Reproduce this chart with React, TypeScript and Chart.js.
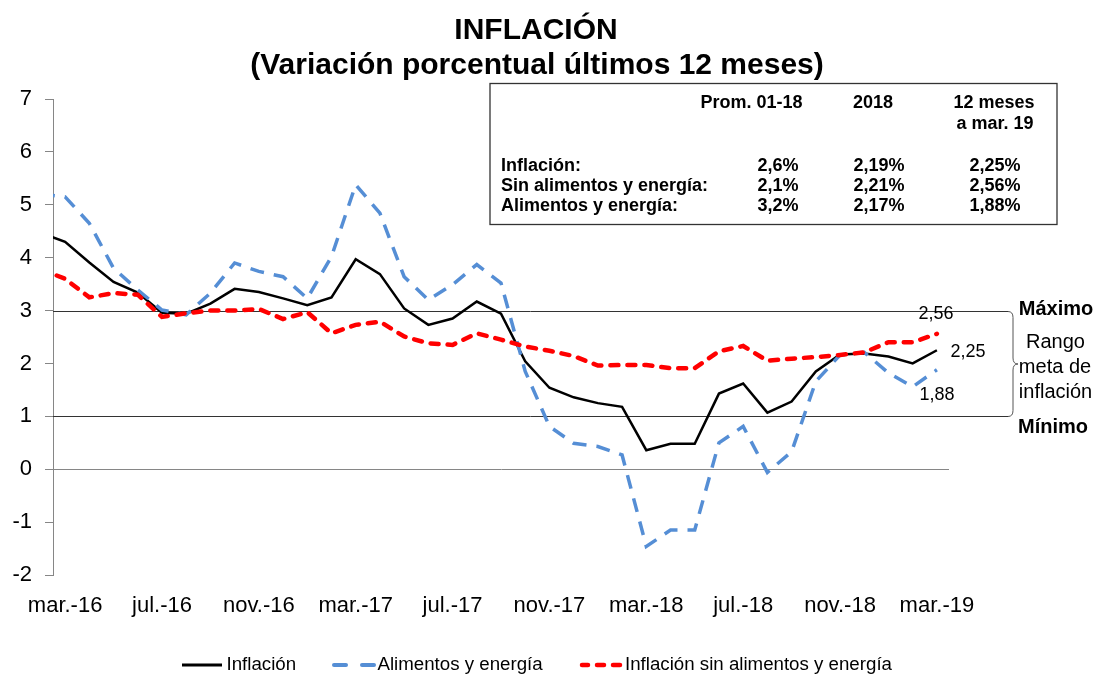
import React, { useEffect, useRef } from "react";
import { Chart, registerables } from "chart.js";

Chart.register(...registerables);

const FONT = '"Liberation Sans", Arial, Helvetica, sans-serif';

// Months (feb.-16 is only partly visible, clipped at the axis)
const months = [
  "feb.-16", "mar.-16", "abr.-16", "may.-16", "jun.-16", "jul.-16", "ago.-16", "sep.-16", "oct.-16", "nov.-16", "dic.-16",
  "ene.-17", "feb.-17", "mar.-17", "abr.-17", "may.-17", "jun.-17", "jul.-17", "ago.-17", "sep.-17", "oct.-17", "nov.-17", "dic.-17",
  "ene.-18", "feb.-18", "mar.-18", "abr.-18", "may.-18", "jun.-18", "jul.-18", "ago.-18", "sep.-18", "oct.-18", "nov.-18", "dic.-18",
  "ene.-19", "feb.-19", "mar.-19",
];

const tickLabels = ["mar.-16", "jul.-16", "nov.-16", "mar.-17", "jul.-17", "nov.-17", "mar.-18", "jul.-18", "nov.-18", "mar.-19"];

const inflacion = [
  4.47, 4.30, 3.91, 3.54, 3.34, 2.96, 2.94, 3.13, 3.41, 3.35, 3.23,
  3.10, 3.25, 3.97, 3.69, 3.04, 2.73, 2.85, 3.17, 2.94, 2.04, 1.54, 1.36,
  1.25, 1.18, 0.36, 0.48, 0.48, 1.43, 1.62, 1.07, 1.28, 1.85, 2.17, 2.19,
  2.13, 2.00, 2.25,
];

const alimentosEnergia = [
  5.20, 5.15, 4.65, 3.80, 3.39, 3.01, 2.92, 3.33, 3.90, 3.74, 3.64,
  3.23, 4.02, 5.38, 4.84, 3.64, 3.20, 3.49, 3.87, 3.52, 1.85, 0.81, 0.49,
  0.43, 0.27, -1.46, -1.15, -1.15, 0.50, 0.81, -0.06, 0.33, 1.66, 2.16, 2.21,
  1.82, 1.56, 1.88,
];

const sinAlimentosEnergia = [
  3.78, 3.60, 3.25, 3.33, 3.30, 2.88, 2.95, 3.00, 3.00, 3.03, 2.84,
  2.97, 2.57, 2.73, 2.79, 2.51, 2.38, 2.35, 2.57, 2.45, 2.32, 2.24, 2.14,
  1.96, 1.97, 1.97, 1.91, 1.91, 2.23, 2.33, 2.05, 2.09, 2.12, 2.16, 2.21,
  2.40, 2.40, 2.56,
];

const seriesNames = ["Inflación", "Alimentos y energía", "Inflación sin alimentos y energía"];

const rangeBounds = [3, 1];
const rangeTexts = ["Máximo", "Rango", "meta de", "inflación", "Mínimo"];

const titleLines = ["INFLACIÓN", "(Variación porcentual últimos 12 meses)"];

const tableHeaders = ["Prom. 01-18", "2018", "12 meses", "a mar. 19"];
const tableRowLabels = ["Inflación:", "Sin alimentos y energía:", "Alimentos y energía:"];
const tableProm = ["2,6%", "2,1%", "3,2%"];
const table2018 = ["2,19%", "2,21%", "2,17%"];
const table12m = ["2,25%", "2,56%", "1,88%"];

const BLACK = "#000000";
const BLUE = "#558ED5";
const RED = "#FF0000";

const toPoints = (vals: number[]) => vals.map((v, i) => ({ x: i, y: v }));
const fmt = (v: number) => v.toFixed(2).replace(".", ",");

const overlayPlugin = {
  id: "overlay",
  beforeDatasetsDraw(chart: any) {
    const { ctx, chartArea, scales } = chart;
    const y = scales.y;
    ctx.save();
    ctx.strokeStyle = "#333333";
    ctx.lineWidth = 1;
    rangeBounds.forEach((v) => {
      const py = Math.round(y.getPixelForValue(v)) + 0.5;
      ctx.beginPath();
      ctx.moveTo(chartArea.left, py);
      ctx.lineTo(1008, py);
      ctx.stroke();
    });
    ctx.restore();
  },
  afterDraw(chart: any) {
    const { ctx, scales } = chart;
    const x = scales.x;
    const y = scales.y;
    ctx.save();

    // Title
    ctx.fillStyle = "#000";
    ctx.textAlign = "center";
    ctx.textBaseline = "middle";
    ctx.font = `bold 30px ${FONT}`;
    ctx.fillText(titleLines[0], 536, 31);
    ctx.fillText(titleLines[1], 537, 66);

    // Table box
    ctx.strokeStyle = "#333";
    ctx.lineWidth = 1.3;
    ctx.strokeRect(490, 83.5, 567, 141);
    ctx.font = `bold 18px ${FONT}`;
    ctx.fillStyle = "#000";
    ctx.textAlign = "center";
    ctx.fillText(tableHeaders[0], 751.5, 103);
    ctx.fillText(tableHeaders[1], 873, 103);
    ctx.fillText(tableHeaders[2], 994, 103);
    ctx.fillText(tableHeaders[3], 995, 124);
    const rowYs = [166, 186, 206];
    rowYs.forEach((ry, i) => {
      ctx.textAlign = "left";
      ctx.fillText(tableRowLabels[i], 501, ry);
      ctx.textAlign = "center";
      ctx.fillText(tableProm[i], 778, ry);
      ctx.fillText(table2018[i], 879, ry);
      ctx.fillText(table12m[i], 995, ry);
    });

    // Brace and range annotation
    const y3 = Math.round(y.getPixelForValue(rangeBounds[0])) + 0.5;
    const y1 = Math.round(y.getPixelForValue(rangeBounds[1])) + 0.5;
    const mid = (y3 + y1) / 2;
    ctx.strokeStyle = "#555";
    ctx.lineWidth = 1;
    ctx.beginPath();
    ctx.moveTo(1008, y3);
    ctx.quadraticCurveTo(1013, y3, 1013, y3 + 6);
    ctx.lineTo(1013, mid - 6);
    ctx.quadraticCurveTo(1013, mid, 1018, mid);
    ctx.quadraticCurveTo(1013, mid, 1013, mid + 6);
    ctx.lineTo(1013, y1 - 6);
    ctx.quadraticCurveTo(1013, y1, 1008, y1);
    ctx.stroke();

    ctx.fillStyle = "#000";
    ctx.textAlign = "center";
    ctx.font = `bold 20px ${FONT}`;
    ctx.fillText(rangeTexts[0], 1056, y3 - 2.5);
    ctx.fillText(rangeTexts[4], 1053, y1 + 10.5);
    ctx.font = `20px ${FONT}`;
    ctx.fillText(rangeTexts[1], 1055.5, mid - 21.5);
    ctx.fillText(rangeTexts[2], 1055, mid + 3.5);
    ctx.fillText(rangeTexts[3], 1055.5, mid + 28);

    // End-value labels
    const last = months.length - 1;
    const lx = x.getPixelForValue(last);
    ctx.font = `18px ${FONT}`;
    ctx.fillText(fmt(sinAlimentosEnergia[last]), lx - 1, y.getPixelForValue(sinAlimentosEnergia[last]) - 20);
    ctx.fillText(fmt(inflacion[last]), lx + 31, y.getPixelForValue(inflacion[last]) + 1.5);
    ctx.fillText(fmt(alimentosEnergia[last]), lx, y.getPixelForValue(alimentosEnergia[last]) + 25);

    // Legend
    const ly = 665;
    ctx.lineCap = "butt";
    ctx.strokeStyle = BLACK;
    ctx.lineWidth = 3;
    ctx.beginPath();
    ctx.moveTo(182, ly);
    ctx.lineTo(222, ly);
    ctx.stroke();

    ctx.strokeStyle = BLUE;
    ctx.lineWidth = 4;
    ctx.lineCap = "round";
    [[334, 346], [362, 374]].forEach(([a, b]) => {
      ctx.beginPath();
      ctx.moveTo(a, ly);
      ctx.lineTo(b, ly);
      ctx.stroke();
    });

    ctx.strokeStyle = RED;
    ctx.lineWidth = 4.5;
    [[582, 588], [597, 604], [613, 620]].forEach(([a, b]) => {
      ctx.beginPath();
      ctx.moveTo(a, ly);
      ctx.lineTo(b, ly);
      ctx.stroke();
    });

    ctx.fillStyle = "#000";
    ctx.textAlign = "left";
    ctx.font = `18.7px ${FONT}`;
    ctx.fillText(seriesNames[0], 226.5, ly);
    ctx.fillText(seriesNames[1], 377.5, ly);
    ctx.fillText(seriesNames[2], 625, ly);

    ctx.restore();
  },
};

export default function App() {
  const canvasRef = useRef<HTMLCanvasElement | null>(null);

  useEffect(() => {
    const canvas = canvasRef.current;
    if (!canvas) return;
    const chart = new Chart(canvas, {
      type: "line",
      data: {
        datasets: [
          {
            label: seriesNames[0],
            data: toPoints(inflacion),
            borderColor: BLACK,
            borderWidth: 2.5,
            pointRadius: 0,
            tension: 0,
            order: 2,
          },
          {
            label: seriesNames[1],
            data: toPoints(alimentosEnergia),
            borderColor: BLUE,
            borderWidth: 3.5,
            borderDash: [14, 10],
            pointRadius: 0,
            tension: 0,
            order: 1,
          },
          {
            label: seriesNames[2],
            data: toPoints(sinAlimentosEnergia),
            borderColor: RED,
            borderWidth: 4.5,
            borderDash: [8, 9],
            borderCapStyle: "round",
            pointRadius: 0,
            tension: 0,
            order: 0,
          },
        ],
      },
      options: {
        responsive: false,
        animation: false,
        devicePixelRatio: 1,
        layout: { padding: { top: 99, right: 152, left: 0, bottom: 0 } },
        plugins: {
          legend: { display: false },
          title: { display: false },
          tooltip: { enabled: false },
        },
        scales: {
          x: {
            type: "linear",
            min: 0.5,
            max: 37.5,
            grid: { display: false, drawTicks: false },
            border: { display: false },
            afterBuildTicks: (s: any) => {
              s.ticks = tickLabels.map((l) => ({ value: months.indexOf(l) }));
            },
            afterFit: (s: any) => {
              s.height = 100;
            },
            ticks: {
              autoSkip: false,
              maxRotation: 0,
              padding: 18,
              color: "#000",
              font: { size: 22, family: FONT },
              callback: (v: any) => months[Number(v)] ?? "",
            },
          },
          y: {
            min: -2,
            max: 7,
            afterFit: (s: any) => {
              s.width = 53;
            },
            grid: {
              color: (c: any) => (c.tick && c.tick.value === 0 ? "#868686" : "rgba(0,0,0,0)"),
              tickColor: "#868686",
              tickLength: 8,
              lineWidth: 1,
            },
            border: { color: "#868686" },
            ticks: {
              stepSize: 1,
              padding: 13,
              color: "#000",
              font: { size: 22, family: FONT },
            },
          },
        },
      },
      plugins: [overlayPlugin],
    });
    return () => chart.destroy();
  }, []);

  return (
    <div style={{ position: "absolute", left: 0, top: 0, width: 1101, height: 675, background: "#fff" }}>
      <canvas ref={canvasRef} width={1101} height={675} style={{ display: "block" }} />
    </div>
  );
}
